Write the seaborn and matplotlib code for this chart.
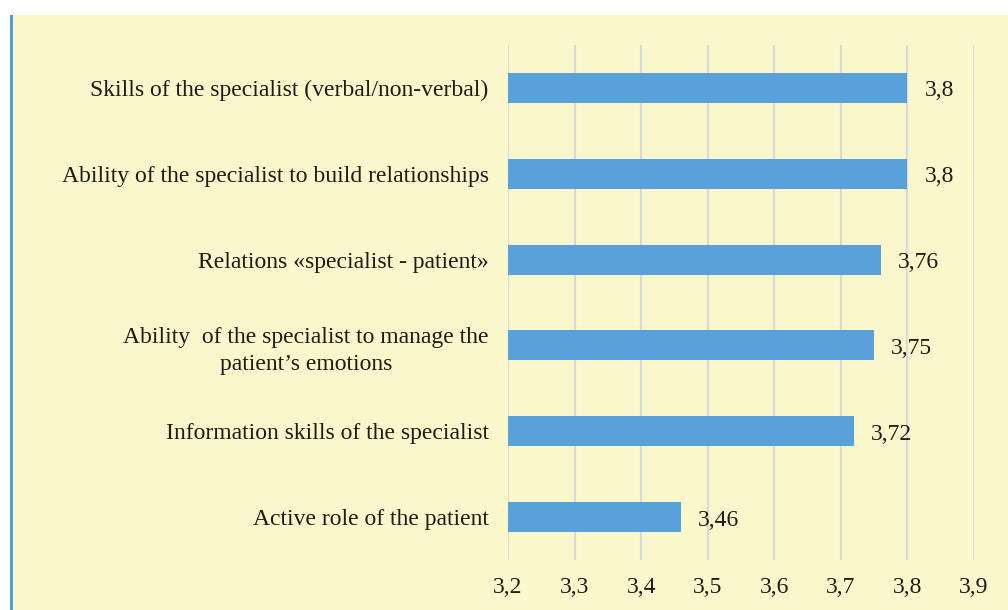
import matplotlib
matplotlib.use("Agg")
import matplotlib.pyplot as plt
import seaborn as sns
import pandas as pd
from matplotlib.patches import Rectangle
from matplotlib.ticker import FuncFormatter

# ---------------------------------------------------------------------------
# Data
# ---------------------------------------------------------------------------
categories = [
    "Skills of the specialist (verbal/non-verbal)",
    "Ability of the specialist to build relationships",
    "Relations «specialist - patient»",
    "Ability  of the specialist to manage the\npatient\u2019s emotions",
    "Information skills of the specialist",
    "Active role of the patient",
]
scores = [3.8, 3.8, 3.76, 3.75, 3.72, 3.46]
x_ticks = [3.2, 3.3, 3.4, 3.5, 3.6, 3.7, 3.8, 3.9]

BG = "#FAF7CD"
BAR = "#58A2D9"
TXT = "#1c1c12"
FS = 17

df = pd.DataFrame({"category": categories, "score": scores})

sns.set_style("white")
plt.rcParams["font.family"] = ["Liberation Serif", "DejaVu Serif"]

fig = plt.figure(figsize=(10.08, 6.1), dpi=100, facecolor="white")
# yellow panel + blue left border (behind the axes)
fig.add_artist(Rectangle((13 / 1008, 0), 1, 1 - 15 / 610, transform=fig.transFigure,
                         facecolor=BG, edgecolor="none", zorder=-10))
fig.add_artist(Rectangle((10 / 1008, 0), 3 / 1008, 1 - 15 / 610, transform=fig.transFigure,
                         facecolor="#5B9BD5", edgecolor="none", zorder=-10))

ax = fig.add_axes([508 / 1008, 50 / 610, 466 / 1008, 515 / 610])
ax.set_facecolor("none")

sns.barplot(data=df, x="score", y="category", orient="h", color=BAR,
            width=0.35, saturation=1, linewidth=0, ax=ax, zorder=3)

ax.set_xlim(3.2, 3.9)
ax.set_xticks(x_ticks)
ax.xaxis.set_major_formatter(FuncFormatter(lambda v, _: f"{v:.1f}".replace(".", ",")))
ax.grid(axis="x", color="#D9D9D9", linewidth=1.5, zorder=0)
ax.grid(axis="y", visible=False)
ax.set_axisbelow(True)
sns.despine(ax=ax, left=True, bottom=True)

ax.set_xlabel("")
ax.set_ylabel("")
ax.tick_params(axis="both", length=0, labelsize=FS, colors=TXT)
ax.tick_params(axis="x", pad=12)
ax.tick_params(axis="y", pad=14)
for lbl in ax.get_yticklabels():
    lbl.set_multialignment("center")
    lbl.set_linespacing(1.35)

for i, v in enumerate(scores):
    txt = f"{v:g}".replace(".", ",")
    ax.annotate(txt, xy=(v, i), xytext=(17, -3), textcoords="offset pixels",
                ha="left", va="center", fontsize=FS, color=TXT)

fig.savefig("out.png", dpi=100, facecolor=fig.get_facecolor())
plt.close(fig)
